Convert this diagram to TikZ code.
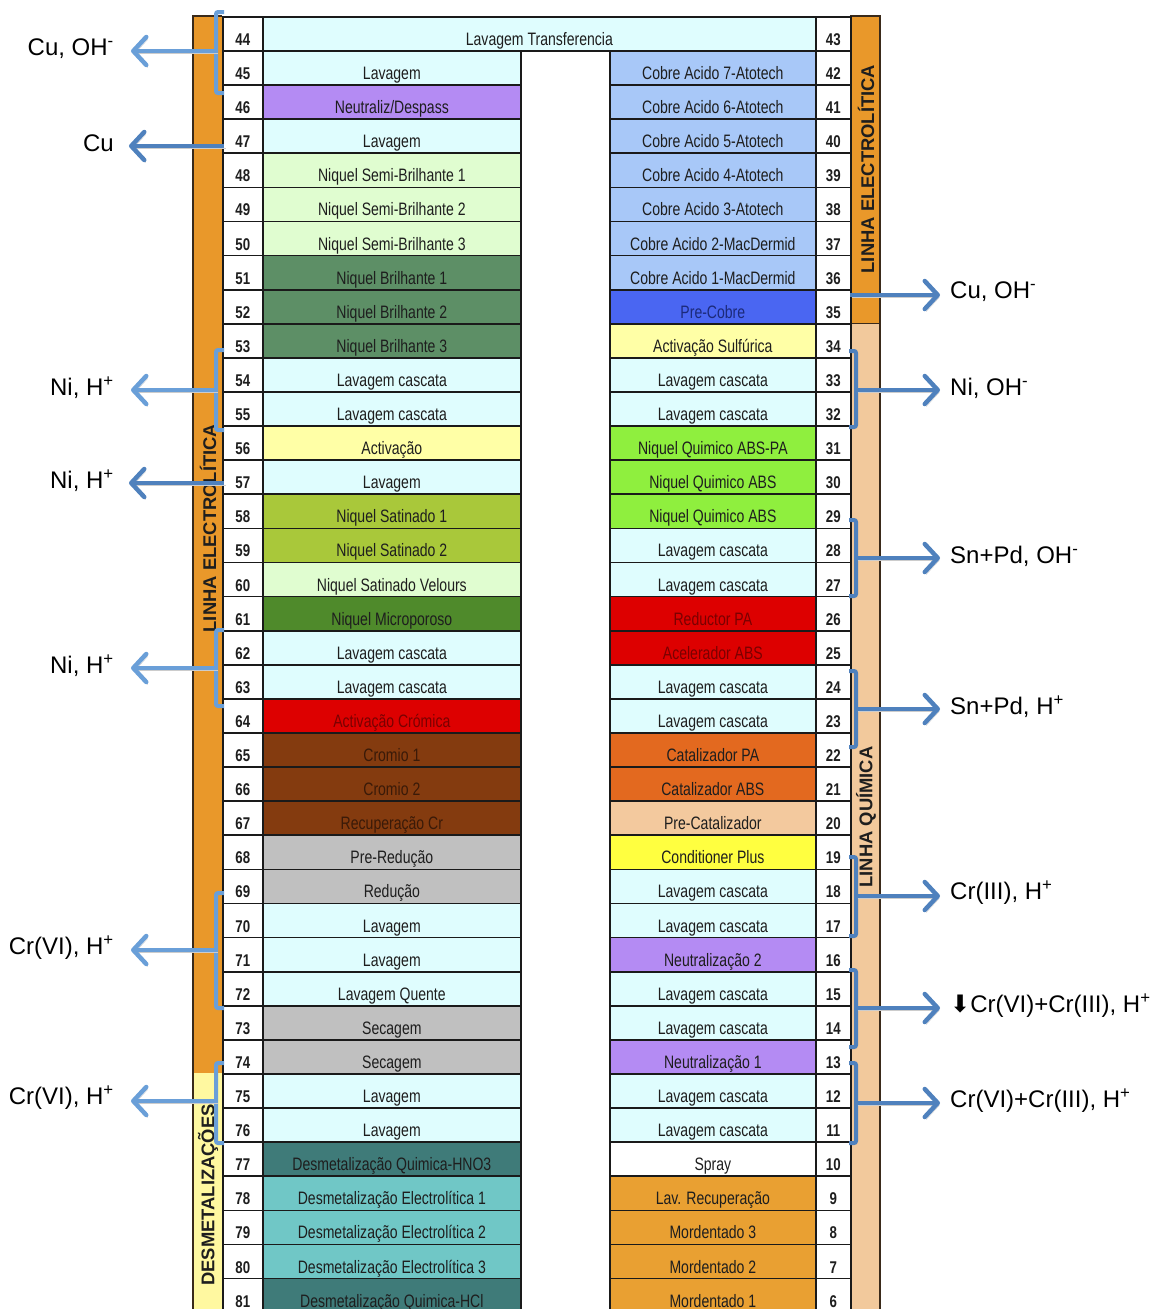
\documentclass[tikz,border=0pt]{standalone}
\usepackage{fontspec}
\setmainfont{Liberation Sans}
\newfontfamily\cellfont[FakeStretch=0.78]{Liberation Sans}
\newfontfamily\symfont{DejaVu Sans}
\usetikzlibrary{arrows.meta}
\definecolor{cCyan}{HTML}{DFFDFE}
\definecolor{cPurple}{HTML}{B48BF3}
\definecolor{cLGreen}{HTML}{E0FDD0}
\definecolor{cMGreen}{HTML}{5D8F66}
\definecolor{cOlive}{HTML}{A9C83A}
\definecolor{cDGreen}{HTML}{4F8A2B}
\definecolor{cRed}{HTML}{DD0000}
\definecolor{cBrown}{HTML}{843B0F}
\definecolor{cGray}{HTML}{C0C0C0}
\definecolor{cDTeal}{HTML}{3F7B79}
\definecolor{cTeal}{HTML}{70C7C6}
\definecolor{cLBlue}{HTML}{A8C8F8}
\definecolor{cBlue}{HTML}{4A66F2}
\definecolor{cLYellow}{HTML}{FFFFA6}
\definecolor{cBGreen}{HTML}{8FEF3E}
\definecolor{cOrange}{HTML}{E3691F}
\definecolor{cPeach}{HTML}{F3C99E}
\definecolor{cYellow}{HTML}{FFFF40}
\definecolor{cMord}{HTML}{E9A032}
\definecolor{stripOr}{HTML}{E9982A}
\definecolor{stripPe}{HTML}{F2C99C}
\definecolor{stripYe}{HTML}{FFF8A0}
\definecolor{tDark}{HTML}{1E1E1E}
\definecolor{tRed}{HTML}{7A0000}
\definecolor{tBrown}{HTML}{3A1A08}
\definecolor{tNavy}{HTML}{1C2A7A}
\definecolor{lineDark}{HTML}{1A1A1A}
\definecolor{stripLine}{HTML}{3A2A1A}
\definecolor{arrBlue}{HTML}{4F81BD}
\definecolor{arrLight}{HTML}{6A9FD8}
\newcommand\Lrow[4]{%
  \node[numcell, minimum width=40pt] (nL#1) at (222,{16+(#1-44)*34.1}) {#1};
  \node[cell, minimum width=258pt, fill=#3, text=#4] (cL#1) at (262,{16+(#1-44)*34.1}) {#2};
}
\newcommand\Rrow[4]{%
  \node[cell, minimum width=206pt, fill=#3, text=#4] (cR#1) at (609,{16+(43-#1)*34.1}) {#2};
  \node[numcell, minimum width=35pt] (nR#1) at (815,{16+(43-#1)*34.1}) {#1};
}
\newcommand\sfx[1]{\textsuperscript{#1}}
\begin{document}
\begin{tikzpicture}[x=1pt,y=-1pt,
  cell/.style={draw=lineDark, line width=1.7pt, anchor=north west, inner sep=0pt,
    minimum height=34.1pt, text height=23pt, text depth=0pt,
    font=\cellfont\fontsize{18}{20}\selectfont, text=tDark},
  numcell/.style={cell, fill=white, font=\cellfont\bfseries\fontsize{17}{20}\selectfont},
  striplbl/.style={rotate=90, inner sep=0pt, font=\bfseries\fontsize{18.4}{20}\selectfont, text=tDark},
  sidelbl/.style={inner sep=0pt, font=\fontsize{24}{28}\selectfont, text=black},
  arr/.style={draw=arrBlue, line width=4.5pt, -{Straight Barb[length=13pt,width=28pt,round]},
    preaction={draw=gray!40, transform canvas={shift={(1.5pt,-2.5pt)}}}},
  arrL/.style={arr, draw=arrLight},
  brk/.style={draw=arrLight, line width=4pt, rounded corners=2pt},
  brkR/.style={draw=arrBlue, line width=4pt, rounded corners=2pt}]
\useasboundingbox (0,0) rectangle (1151,1309);
\clip (0,0) rectangle (1151,1309);
% strips
\fill[stripOr] (193,16) rectangle (222,1073);
\fill[stripYe] (193,1073) rectangle (222,1330);
\draw[stripLine, line width=1.5pt] (193,1330) -- (193,16) -- (222,16);
\fill[stripOr] (850,16) rectangle (880,323);
\fill[stripPe] (850,323) rectangle (880,1330);
\draw[stripLine, line width=1.5pt] (850,16) -- (880,16) -- (880,1330);
\draw[stripLine, line width=1pt] (850,323) -- (880,323);
\node[striplbl] (sL1) at (208,528) {LINHA ELECTROLÍTICA};
\node[striplbl] (sL2) at (208,1195) {DESMETALIZAÇÕES};
\node[striplbl] (sR1) at (866,169) {LINHA ELECTROLÍTICA};
\node[striplbl] (sR2) at (866,817) {LINHA QUÍMICA};
% row 44 / 43
\node[numcell, minimum width=40pt] (nL44) at (222,16) {44};
\node[cell, minimum width=553pt, fill=cCyan] (cL44) at (262,16) {Lavagem Transferencia};
\node[numcell, minimum width=35pt] (nR43) at (815,16) {43};
% left column
\Lrow{45}{Lavagem}{cCyan}{tDark}
\Lrow{46}{Neutraliz/Despass}{cPurple}{tDark}
\Lrow{47}{Lavagem}{cCyan}{tDark}
\Lrow{48}{Niquel Semi-Brilhante 1}{cLGreen}{tDark}
\Lrow{49}{Niquel Semi-Brilhante 2}{cLGreen}{tDark}
\Lrow{50}{Niquel Semi-Brilhante 3}{cLGreen}{tDark}
\Lrow{51}{Niquel Brilhante 1}{cMGreen}{tDark}
\Lrow{52}{Niquel Brilhante 2}{cMGreen}{tDark}
\Lrow{53}{Niquel Brilhante 3}{cMGreen}{tDark}
\Lrow{54}{Lavagem cascata}{cCyan}{tDark}
\Lrow{55}{Lavagem cascata}{cCyan}{tDark}
\Lrow{56}{Activação}{cLYellow}{tDark}
\Lrow{57}{Lavagem}{cCyan}{tDark}
\Lrow{58}{Niquel Satinado 1}{cOlive}{tDark}
\Lrow{59}{Niquel Satinado 2}{cOlive}{tDark}
\Lrow{60}{Niquel Satinado Velours}{cLGreen}{tDark}
\Lrow{61}{Niquel Microporoso}{cDGreen}{tDark}
\Lrow{62}{Lavagem cascata}{cCyan}{tDark}
\Lrow{63}{Lavagem cascata}{cCyan}{tDark}
\Lrow{64}{Activação Crómica}{cRed}{tRed}
\Lrow{65}{Cromio 1}{cBrown}{tBrown}
\Lrow{66}{Cromio 2}{cBrown}{tBrown}
\Lrow{67}{Recuperação Cr}{cBrown}{tBrown}
\Lrow{68}{Pre-Redução}{cGray}{tDark}
\Lrow{69}{Redução}{cGray}{tDark}
\Lrow{70}{Lavagem}{cCyan}{tDark}
\Lrow{71}{Lavagem}{cCyan}{tDark}
\Lrow{72}{Lavagem Quente}{cCyan}{tDark}
\Lrow{73}{Secagem}{cGray}{tDark}
\Lrow{74}{Secagem}{cGray}{tDark}
\Lrow{75}{Lavagem}{cCyan}{tDark}
\Lrow{76}{Lavagem}{cCyan}{tDark}
\Lrow{77}{Desmetalização Quimica-HNO3}{cDTeal}{tDark}
\Lrow{78}{Desmetalização Electrolítica 1}{cTeal}{tDark}
\Lrow{79}{Desmetalização Electrolítica 2}{cTeal}{tDark}
\Lrow{80}{Desmetalização Electrolítica 3}{cTeal}{tDark}
\Lrow{81}{Desmetalização Quimica-HCl}{cDTeal}{tDark}
% right column
\Rrow{42}{Cobre Acido 7-Atotech}{cLBlue}{tDark}
\Rrow{41}{Cobre Acido 6-Atotech}{cLBlue}{tDark}
\Rrow{40}{Cobre Acido 5-Atotech}{cLBlue}{tDark}
\Rrow{39}{Cobre Acido 4-Atotech}{cLBlue}{tDark}
\Rrow{38}{Cobre Acido 3-Atotech}{cLBlue}{tDark}
\Rrow{37}{Cobre Acido 2-MacDermid}{cLBlue}{tDark}
\Rrow{36}{Cobre Acido 1-MacDermid}{cLBlue}{tDark}
\Rrow{35}{Pre-Cobre}{cBlue}{tNavy}
\Rrow{34}{Activação Sulfúrica}{cLYellow}{tDark}
\Rrow{33}{Lavagem cascata}{cCyan}{tDark}
\Rrow{32}{Lavagem cascata}{cCyan}{tDark}
\Rrow{31}{Niquel Quimico ABS-PA}{cBGreen}{tDark}
\Rrow{30}{Niquel Quimico ABS}{cBGreen}{tDark}
\Rrow{29}{Niquel Quimico ABS}{cBGreen}{tDark}
\Rrow{28}{Lavagem cascata}{cCyan}{tDark}
\Rrow{27}{Lavagem cascata}{cCyan}{tDark}
\Rrow{26}{Reductor PA}{cRed}{tRed}
\Rrow{25}{Acelerador ABS}{cRed}{tRed}
\Rrow{24}{Lavagem cascata}{cCyan}{tDark}
\Rrow{23}{Lavagem cascata}{cCyan}{tDark}
\Rrow{22}{Catalizador PA}{cOrange}{tDark}
\Rrow{21}{Catalizador ABS}{cOrange}{tDark}
\Rrow{20}{Pre-Catalizador}{cPeach}{tDark}
\Rrow{19}{Conditioner Plus}{cYellow}{tDark}
\Rrow{18}{Lavagem cascata}{cCyan}{tDark}
\Rrow{17}{Lavagem cascata}{cCyan}{tDark}
\Rrow{16}{Neutralização 2}{cPurple}{tDark}
\Rrow{15}{Lavagem cascata}{cCyan}{tDark}
\Rrow{14}{Lavagem cascata}{cCyan}{tDark}
\Rrow{13}{Neutralização 1}{cPurple}{tDark}
\Rrow{12}{Lavagem cascata}{cCyan}{tDark}
\Rrow{11}{Lavagem cascata}{cCyan}{tDark}
\Rrow{10}{Spray}{white}{tDark}
\Rrow{9}{Lav. Recuperação}{cMord}{tDark}
\Rrow{8}{Mordentado 3}{cMord}{tDark}
\Rrow{7}{Mordentado 2}{cMord}{tDark}
\Rrow{6}{Mordentado 1}{cMord}{tDark}
% left side labels
\node[sidelbl, anchor=east] (LA) at (114,49) {Cu, OH\sfx{-}};
\node[sidelbl, anchor=east] (LB) at (114,143) {Cu};
\node[sidelbl, anchor=east] (LC) at (114,388) {Ni, H\sfx{+}};
\node[sidelbl, anchor=east] (LD) at (114,481) {Ni, H\sfx{+}};
\node[sidelbl, anchor=east] (LE) at (114,666) {Ni, H\sfx{+}};
\node[sidelbl, anchor=east] (LF) at (114,948) {Cr(VI), H\sfx{+}};
\node[sidelbl, anchor=east] (LG) at (114,1098) {Cr(VI), H\sfx{+}};
% right side labels
\node[sidelbl, anchor=west] (RA) at (950,292) {Cu, OH\sfx{-}};
\node[sidelbl, anchor=west] (RB) at (950,388) {Ni, OH\sfx{-}};
\node[sidelbl, anchor=west] (RC) at (950,556) {Sn+Pd, OH\sfx{-}};
\node[sidelbl, anchor=west] (RD) at (950,707) {Sn+Pd, H\sfx{+}};
\node[sidelbl, anchor=west] (RE) at (950,893) {Cr(III), H\sfx{+}};
\node[sidelbl, anchor=west] (RF) at (950,1006) {{\symfont ⬇}Cr(VI)+Cr(III), H\sfx{+}};
\node[sidelbl, anchor=west] (RG) at (950,1101) {Cr(VI)+Cr(III), H\sfx{+}};
% left brackets and arrows
\coordinate (jA) at (216,51);
\coordinate (jB) at (224,146);
\coordinate (jC) at (216,390);
\coordinate (jD) at (224,483);
\coordinate (jE) at (216,668);
\coordinate (jF) at (216,950);
\coordinate (jG) at (216,1101);
\coordinate (tA) at (131,51);
\coordinate (tB) at (129,146);
\coordinate (tC) at (131,390);
\coordinate (tD) at (129,483);
\coordinate (tE) at (131,668);
\coordinate (tF) at (131,950);
\coordinate (tG) at (131,1101);
\draw[brk] (224,12) -- (216,12) -- (216,93) -- (224,93);
\draw[brk] (224,350) -- (216,350) -- (216,430) -- (224,430);
\draw[brk] (224,630) -- (216,630) -- (216,706) -- (224,706);
\draw[brk] (224,893) -- (216,893) -- (216,1008) -- (224,1008);
\draw[brk] (224,1063) -- (216,1063) -- (216,1143) -- (224,1143);
\draw[arrL] (jA) -- (tA);
\draw[arr] (jB) -- (tB);
\draw[arrL] (jC) -- (tC);
\draw[arr] (jD) -- (tD);
\draw[arrL] (jE) -- (tE);
\draw[arrL] (jF) -- (tF);
\draw[arrL] (jG) -- (tG);
% right brackets and arrows
\coordinate (kA) at (850,295);
\coordinate (kB) at (856,390);
\coordinate (kC) at (856,558);
\coordinate (kD) at (856,709);
\coordinate (kE) at (856,896);
\coordinate (kF) at (856,1008);
\coordinate (kG) at (856,1103);
\coordinate (uA) at (940,295);
\coordinate (uB) at (940,390);
\coordinate (uC) at (940,558);
\coordinate (uD) at (940,709);
\coordinate (uE) at (940,896);
\coordinate (uF) at (940,1008);
\coordinate (uG) at (940,1103);
\draw[brkR] (849,351) -- (856,351) -- (856,427) -- (849,427);
\draw[brkR] (849,520) -- (856,520) -- (856,596) -- (849,596);
\draw[brkR] (849,671) -- (856,671) -- (856,747) -- (849,747);
\draw[brkR] (849,857) -- (856,857) -- (856,936) -- (849,936);
\draw[brkR] (849,970) -- (856,970) -- (856,1047) -- (849,1047);
\draw[brkR] (849,1063) -- (856,1063) -- (856,1143) -- (849,1143);
\draw[arr] (kA) -- (uA);
\draw[arr] (kB) -- (uB);
\draw[arr] (kC) -- (uC);
\draw[arr] (kD) -- (uD);
\draw[arr] (kE) -- (uE);
\draw[arr] (kF) -- (uF);
\draw[arr] (kG) -- (uG);
\end{tikzpicture}
\end{document}
